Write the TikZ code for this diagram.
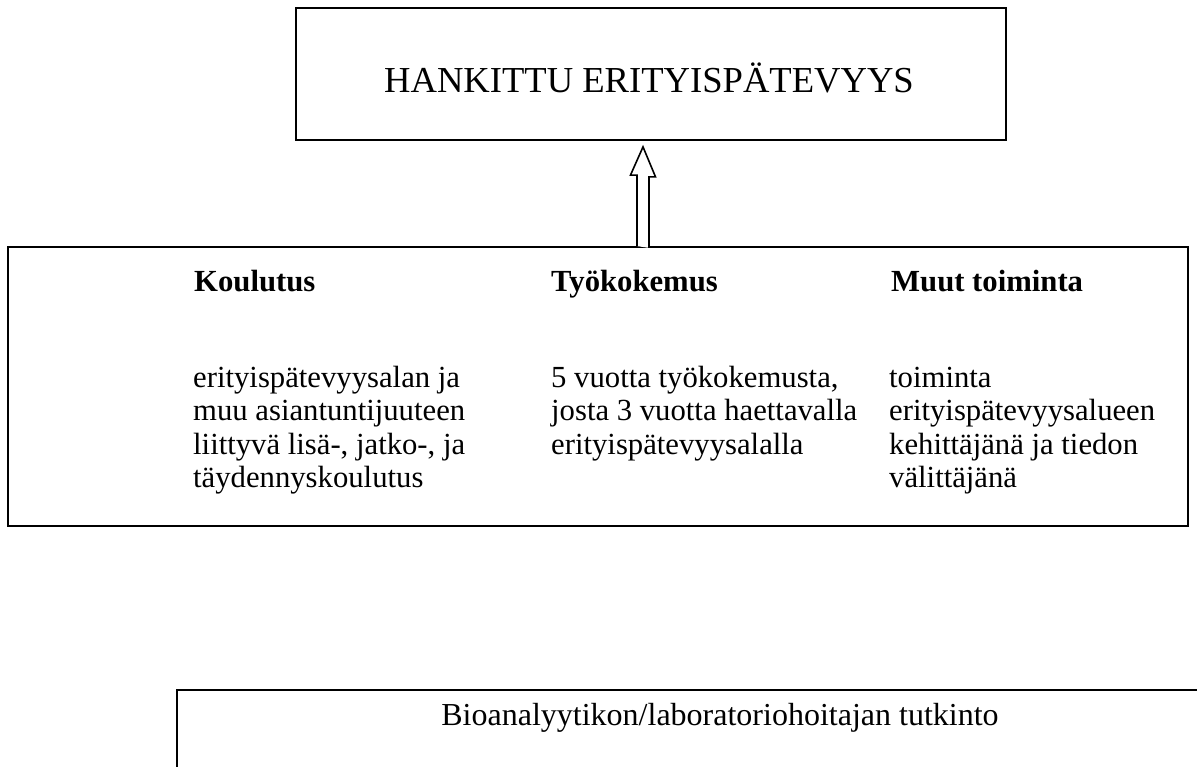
\documentclass[tikz,border=0pt]{standalone}
\usepackage{fontspec}
\setmainfont{Liberation Serif}
\usetikzlibrary{positioning}
\newcommand{\leipa}{\fontsize{30.7}{33.5}\selectfont}
\newcommand{\isoteksti}{\fontsize{36.6}{42}\selectfont}
\newcommand{\alateksti}{\fontsize{32}{36}\selectfont}
\begin{document}
\begin{tikzpicture}[x=1pt,y=1pt]
                        \tikzstyle{laatikko}=[draw, line width=1.8pt, inner sep=0pt]
                        \tikzstyle{otsikko}=[font=\leipa\bfseries, anchor=base west, inner sep=0pt]
                        \tikzstyle{runko}=[font=\leipa, align=left, anchor=north west, inner sep=0pt]
                        \tikzstyle{nuoli}=[line width=1.6pt, line join=miter, fill=white]
                        \useasboundingbox (0,0) rectangle (1197,767);
                        \clip (0,0) rectangle (1197,767);
                        \node[laatikko, minimum width=710, minimum height=132] (hankittu) at (651,693) {};
                        \node[font=\isoteksti] (hankittuteksti) at (649,689) {HANKITTU ERITYISPÄTEVYYS};
                        \node[laatikko, minimum width=1180, minimum height=279] (perusta) at (598,380.5) {};
                        \node[otsikko] (koulutus) at (194,475) {Koulutus};
                        \node[otsikko] (tyokokemus) at (551,475) {Työkokemus};
                        \node[otsikko] (muut) at (891,475) {Muut toiminta};
                        \node[runko] (koulutusteksti) at (193,403.5) {\strut erityispätevyysalan ja\\
                            muu asiantuntijuuteen\\
                            liittyvä lisä-, jatko-, ja\\
                            täydennyskoulutus};
                        \node[runko] (tyokokemusteksti) at (551,403.5) {\strut 5 vuotta työkokemusta,\\
                            josta 3 vuotta haettavalla\\
                            erityispätevyysalalla};
                        \node[runko] (muutteksti) at (889,403.5) {\strut toiminta\\
                            erityispätevyysalueen\\
                            kehittäjänä ja tiedon\\
                            välittäjänä};
                        \coordinate (nuolialku) at ([xshift=45]perusta.north);
                        \coordinate (nuolikarki) at ([xshift=-8,yshift=-6]hankittu.south);
                        \draw[nuoli] (nuolialku) ++(-6,0) -- ++(0,71) -- ++(-6.5,0) -- (nuolikarki)
                            -- ++(12.5,-30) -- ++(-6.5,0) -- ++(0,-71);
                        \node[laatikko, minimum width=1100, minimum height=200, anchor=north west] (tutkinto) at (176,78) {};
                        \node[font=\alateksti] (tutkintoteksti) at (720,49) {Bioanalyytikon/laboratoriohoitajan tutkinto};
                    \end{tikzpicture}
\end{document}
